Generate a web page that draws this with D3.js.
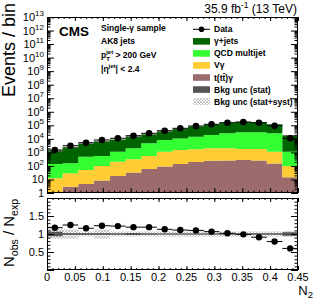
<!DOCTYPE html>
<html>
<head>
<meta charset="utf-8">
<script src="https://cdn.jsdelivr.net/npm/d3@7"></script>
<style>
	body { margin: 0; background: #fff; }
	text { font-family: "Liberation Sans", Arial, Helvetica, sans-serif; fill: #000; }
</style>
</head>
<body>
<svg id="chart" width="316" height="303"></svg>
<script>
// N2 bins
var binEdges = [0, 0.028, 0.056, 0.084, 0.113, 0.141, 0.169, 0.197, 0.225,
	0.253, 0.281, 0.309, 0.338, 0.366, 0.394, 0.422, 0.45];

// Events per bin
var dataCounts = [1500, 3110, 5190, 8200, 10960, 17060, 25660, 39900, 60000,
	88700, 118600, 155700, 175300, 155700, 93400, 10960];
var gammaJets = [1140, 2330, 3990, 6130, 7860, 12300, 16900, 27100, 43500,
	66200, 92200, 127000, 147000, 141000, 92500, 17100];
var qcdMultijet = [127, 128, 430, 442, 917, 1690, 4140, 7080, 9100,
	12700, 17200, 23700, 28600, 28600, 24600, 1020];
var vGamma = [11.7, 25.6, 45.4, 90, 187, 275, 482, 1030, 1360,
	1490, 1760, 1750, 1500, 1530, 971, 84];
var ttGamma = [0.5, 2.9, 4.6, 8.4, 18, 33, 59, 91, 139,
	195, 243, 251, 274, 251, 151, 14.5];

// Nobs / Nexp
var ratioVals = [1.175, 1.25, 1.16, 1.23, 1.22, 1.19, 1.19, 1.13, 1.11,
	1.10, 1.065, 1.02, 0.99, 0.91, 0.79, 0.60];

// relative background uncertainties
var statUnc = [0.06, 0.02, 0.02, 0.02, 0.015, 0.03, 0.012, 0.01, 0.01,
	0.01, 0.01, 0.01, 0.01, 0.012, 0.015, 0.05];
var totUnc = [0.14, 0.13, 0.07, 0.13, 0.07, 0.07, 0.07, 0.07, 0.07,
	0.07, 0.07, 0.07, 0.07, 0.07, 0.07, 0.08];

// Axis labels
var xTickVals = [0, 0.05, 0.1, 0.15, 0.2, 0.25, 0.3, 0.35, 0.4, 0.45];
var xTickLabels = ["0", "0.05", "0.1", "0.15", "0.2", "0.25", "0.3", "0.35", "0.4", "0.45"];
var yDecades = [0, 1, 2, 3, 4, 5, 6, 7, 8, 9, 10, 11, 12, 13];
var ratioTickVals = [0.5, 1, 1.5];
var ratioTickLabels = ["0.5", "1", "1.5"];

var legendLabels = ["Data", "\u03b3+jets", "QCD multijet", "V\u03b3", "t(tt\u0304)\u03b3",
	"Bkg unc (stat)", "Bkg unc (stat+syst)"];

var svg = d3.select("#chart");

var L = 47, R = 298,
	mainTop = 17, mainBot = 193,
	ratTop = 198, ratBot = 270;

var x = d3.scaleLinear().domain([0, 0.45]).range([L, R]);
var y = d3.scaleLog().domain([1, 1e13]).range([mainBot, mainTop]);
var yr = d3.scaleLinear().domain([0, 2]).range([ratBot, ratTop]);

var keys = ["ttg", "vg", "qcd", "gj"],
	colors = { ttg: "#9c6b6b", vg: "#ffcc33", qcd: "#33ff33", gj: "#006400" };

var bins = dataCounts.map(function (d, i) {
	return {
		lo: binEdges[i], hi: binEdges[i + 1], mid: (binEdges[i] + binEdges[i + 1]) / 2,
		data: d, ratio: ratioVals[i],
		ttg: ttGamma[i], vg: vGamma[i], qcd: qcdMultijet[i], gj: gammaJets[i],
		stat: statUnc[i], tot: totUnc[i]
	};
});
bins.forEach(function (b) { b.total = b.ttg + b.vg + b.qcd + b.gj; });

// Defs
var defs = svg.append("defs");
defs.append("clipPath").attr("id", "clipMain").append("rect")
	.attr("x", L).attr("y", mainTop).attr("width", R - L).attr("height", mainBot - mainTop);
defs.append("clipPath").attr("id", "clipRatio").append("rect")
	.attr("x", L).attr("y", ratTop).attr("width", R - L).attr("height", ratBot - ratTop);
var pat = defs.append("pattern").attr("id", "hatch")
	.attr("patternUnits", "userSpaceOnUse").attr("width", 3).attr("height", 3);
pat.append("path").attr("d", "M0,0 L3,3 M3,0 L0,3")
	.attr("stroke", "#b0b0b0").attr("stroke-width", 0.7);

function stepPoints(lower, upper) {
	var pts = [];
	bins.forEach(function (b, i) {
		pts.push({ x: b.lo, y0: lower(b, i), y1: upper(b, i) });
		pts.push({ x: b.hi, y0: lower(b, i), y1: upper(b, i) });
	});
	return pts;
}

// ---------- main panel ----------
var mainG = svg.append("g").attr("clip-path", "url(#clipMain)");

var series = d3.stack().keys(keys)(bins);
var logArea = d3.area()
	.x(function (p) { return x(p.x); })
	.y0(function (p) { return y(Math.max(p.y0, 0.01)); })
	.y1(function (p) { return y(Math.max(p.y1, 0.01)); });

series.forEach(function (s) {
	mainG.append("path")
		.attr("d", logArea(stepPoints(function (b, i) { return s[i][0]; },
			function (b, i) { return s[i][1]; })))
		.attr("fill", colors[s.key]);
});

mainG.append("path")
	.attr("d", logArea(stepPoints(function (b) { return b.total * (1 - b.tot); },
		function (b) { return b.total * (1 + b.tot); })))
	.attr("fill", "url(#hatch)");
mainG.append("path")
	.attr("d", logArea(stepPoints(function (b) { return b.total * (1 - b.stat); },
		function (b) { return b.total * (1 + b.stat); })))
	.attr("fill", "#555");

var dataG = svg.append("g");
dataG.selectAll("line").data(bins).enter().append("line")
	.attr("x1", function (b) { return x(b.lo); })
	.attr("x2", function (b) { return x(b.hi); })
	.attr("y1", function (b) { return y(b.data); })
	.attr("y2", function (b) { return y(b.data); })
	.attr("stroke", "#000").attr("stroke-width", 1);
dataG.selectAll("circle").data(bins).enter().append("circle")
	.attr("cx", function (b) { return x(b.mid); })
	.attr("cy", function (b) { return y(b.data); })
	.attr("r", 3.3).attr("fill", "#000");

// ---------- ratio panel ----------
var ratG = svg.append("g").attr("clip-path", "url(#clipRatio)");
var linArea = d3.area()
	.x(function (p) { return x(p.x); })
	.y0(function (p) { return yr(p.y0); })
	.y1(function (p) { return yr(p.y1); });

ratG.append("path")
	.attr("d", linArea(stepPoints(function (b) { return 1 - b.tot; },
		function (b) { return 1 + b.tot; })))
	.attr("fill", "url(#hatch)");
ratG.append("path")
	.attr("d", linArea(stepPoints(function (b) { return 1 - b.stat; },
		function (b) { return 1 + b.stat; })))
	.attr("fill", "#555");
ratG.append("line")
	.attr("x1", L).attr("x2", R).attr("y1", yr(1)).attr("y2", yr(1))
	.attr("stroke", "#555").attr("stroke-width", 1.2);

var rdG = svg.append("g");
rdG.selectAll("line").data(bins).enter().append("line")
	.attr("x1", function (b) { return x(b.lo); })
	.attr("x2", function (b) { return x(b.hi); })
	.attr("y1", function (b) { return yr(b.ratio); })
	.attr("y2", function (b) { return yr(b.ratio); })
	.attr("stroke", "#000").attr("stroke-width", 1);
rdG.selectAll("circle").data(bins).enter().append("circle")
	.attr("cx", function (b) { return x(b.mid); })
	.attr("cy", function (b) { return yr(b.ratio); })
	.attr("r", 3.2).attr("fill", "#000");

// ---------- axes / ticks ----------
function tickSet(axisFn, scale, vals, size, tx, ty) {
	svg.append("g")
		.attr("transform", "translate(" + tx + "," + ty + ")")
		.call(axisFn(scale).tickValues(vals).tickSize(size).tickSizeOuter(0).tickFormat(""))
		.call(function (g) { g.select(".domain").remove(); });
}

var xMajor = xTickVals,
	xMinor = d3.range(0, 0.4501, 0.01);
var yMajor = yDecades.map(function (d) { return Math.pow(10, d); }),
	yMinor = [];
yDecades.slice(0, -1).forEach(function (d) {
	for (var k = 2; k < 10; k++) yMinor.push(k * Math.pow(10, d));
});
var rMajor = [0, 0.5, 1, 1.5, 2],
	rMinor = d3.range(0, 2.001, 0.1);

// main panel
tickSet(d3.axisBottom, x, xMinor, -2.5, 0, mainBot);
tickSet(d3.axisBottom, x, xMajor, -5, 0, mainBot);
tickSet(d3.axisTop, x, xMinor, -2, 0, mainTop);
tickSet(d3.axisTop, x, xMajor, -4, 0, mainTop);
tickSet(d3.axisLeft, y, yMinor, -3.5, L, 0);
tickSet(d3.axisLeft, y, yMajor, -7, L, 0);
tickSet(d3.axisRight, y, yMinor, -3.5, R, 0);
tickSet(d3.axisRight, y, yMajor, -7, R, 0);
// ratio panel
tickSet(d3.axisBottom, x, xMinor, -2, 0, ratBot);
tickSet(d3.axisBottom, x, xMajor, -4, 0, ratBot);
tickSet(d3.axisTop, x, xMinor, -2, 0, ratTop);
tickSet(d3.axisTop, x, xMajor, -4, 0, ratTop);
tickSet(d3.axisLeft, yr, rMinor, -3.5, L, 0);
tickSet(d3.axisLeft, yr, rMajor, -7, L, 0);
tickSet(d3.axisRight, yr, rMinor, -3.5, R, 0);
tickSet(d3.axisRight, yr, rMajor, -7, R, 0);

// frames
[[mainTop, mainBot], [ratTop, ratBot]].forEach(function (f) {
	svg.append("rect")
		.attr("x", L + 0.5).attr("y", f[0] + 0.5)
		.attr("width", R - L - 1).attr("height", f[1] - f[0] - 1)
		.attr("fill", "none").attr("stroke", "#000").attr("stroke-width", 1);
});

// tick labels
svg.append("g").selectAll("text").data(xTickVals).enter().append("text")
	.attr("x", function (d) { return x(d); })
	.attr("y", 280.5)
	.attr("text-anchor", "middle")
	.attr("font-size", 11)
	.text(function (d, i) { return xTickLabels[i]; });

var yl = svg.append("g").selectAll("text").data(yDecades).enter().append("text")
	.attr("x", 44)
	.attr("y", function (d) { return y(Math.pow(10, d)) + 4; })
	.attr("text-anchor", "end")
	.attr("font-size", 11);
yl.each(function (d) {
	var t = d3.select(this);
	if (d === 0) { t.text("1"); return; }
	t.append("tspan").text("10");
	if (d > 1) {
		t.append("tspan").attr("dy", -5).attr("font-size", 8).text(d);
	}
});

svg.append("g").selectAll("text").data(ratioTickVals).enter().append("text")
	.attr("x", 44)
	.attr("y", function (d) { return yr(d) + 4; })
	.attr("text-anchor", "end")
	.attr("font-size", 11)
	.text(function (d, i) { return ratioTickLabels[i]; });

// axis titles
svg.append("text")
	.attr("transform", "translate(15,3) rotate(-90)")
	.attr("text-anchor", "end")
	.attr("font-size", 18)
	.text("Events / bin");

var rt = svg.append("text")
	.attr("transform", "translate(14,233) rotate(-90)")
	.attr("text-anchor", "middle")
	.attr("font-size", 15);
rt.append("tspan").text("N");
rt.append("tspan").attr("dy", 3.5).attr("font-size", 10.5).text("obs");
rt.append("tspan").attr("dy", -3.5).text(" / N");
rt.append("tspan").attr("dy", 3.5).attr("font-size", 10.5).text("exp");

var xt = svg.append("text")
	.attr("x", 313).attr("y", 295)
	.attr("text-anchor", "end")
	.attr("font-size", 13);
xt.append("tspan").text("N");
xt.append("tspan").attr("dy", 2.5).attr("font-size", 9.5).text("2");

// lumi label
var lumi = svg.append("text")
	.attr("x", 297).attr("y", 13)
	.attr("text-anchor", "end")
	.attr("font-size", 12);
lumi.append("tspan").text("35.9 fb");
lumi.append("tspan").attr("dy", -5).attr("font-size", 8.5).text("-1");
lumi.append("tspan").attr("dy", 5).text(" (13 TeV)");

svg.append("text")
	.attr("x", 59).attr("y", 36)
	.attr("font-size", 13.5)
	.attr("font-weight", "bold")
	.text("CMS");

// selection info
var info = svg.append("g")
	.attr("font-size", 8.5)
	.attr("font-weight", "bold");
info.append("text").attr("x", 101).attr("y", 31).text("Single-\u03b3 sample");
info.append("text").attr("x", 101).attr("y", 44).text("AK8 jets");
var pt = info.append("text").attr("x", 101).attr("y", 58);
pt.append("tspan").text("p");
pt.append("tspan").attr("dy", 2.5).attr("font-size", 6).text("T");
pt.append("tspan").attr("dx", -3.7).attr("dy", -7).attr("font-size", 6).text("jet");
pt.append("tspan").attr("dy", 4.5).text(" > 200 GeV");
var eta = info.append("text").attr("x", 101).attr("y", 72);
eta.append("tspan").text("|\u03b7");
eta.append("tspan").attr("dy", -4).attr("font-size", 6).text("jet");
eta.append("tspan").attr("dy", 4).text("| < 2.4");

// legend
var legend = svg.append("g");
var legendFill = [null, colors.gj, colors.qcd, colors.vg, colors.ttg, "#555", "url(#hatch)"];
legendLabels.forEach(function (lab, i) {
	var cy = 29.3 + i * 12.05;
	if (i === 0) {
		legend.append("line")
			.attr("x1", 193).attr("x2", 210).attr("y1", cy).attr("y2", cy)
			.attr("stroke", "#000").attr("stroke-width", 1);
		legend.append("circle").attr("cx", 201.5).attr("cy", cy).attr("r", 2.8).attr("fill", "#000");
	} else {
		legend.append("rect")
			.attr("x", 193).attr("y", cy - 3.3).attr("width", 17).attr("height", 6.6)
			.attr("fill", legendFill[i]);
	}
	legend.append("text")
		.attr("x", 214).attr("y", cy + 3)
		.attr("font-size", 8.5)
		.attr("font-weight", "bold")
		.text(lab);
});
</script>
</body>
</html>
